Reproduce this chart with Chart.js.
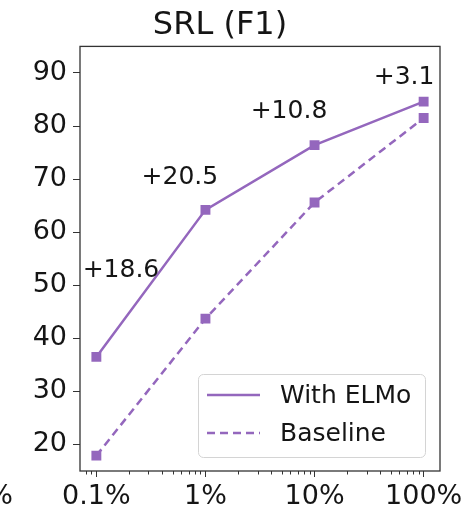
<!DOCTYPE html>
<html><head><meta charset="utf-8">
<script src="https://cdn.jsdelivr.net/npm/chart.js@4/dist/chart.umd.min.js"></script>
<style>html,body{margin:0;padding:0;background:#fff;} #wrap{width:468px;height:507px;position:relative;}</style>
</head><body><div id="wrap"><canvas id="c"></canvas></div>
<script>
// ---- data ----
const titleText = 'SRL (F1)';
const seriesNames = ['With ELMo', 'Baseline'];
const xValues = [0.1, 1, 10, 100];
const xTickValues = [0.1, 1, 10, 100];
const xTickLabels = ['0.1%', '1%', '10%', '100%'];
const yTicks = [20, 30, 40, 50, 60, 70, 80, 90];
const elmo = [36.5, 64.2, 76.4, 84.6];
const baseline = [17.9, 43.7, 65.6, 81.5];
const gainLabels = ['+18.6', '+20.5', '+10.8', '+3.1'];
const gainX = [0.168, 0.583, 5.83, 66.2];
const gainY = [52.8, 70.3, 82.8, 89.2];

// ---- style ----
const FONT = '"DejaVu Sans", sans-serif';
const PURPLE = '#9467bd';
const AXIS = '#333333';
const TEXT = '#151515';
const X_MIN = Math.pow(10, -1.15), X_MAX = Math.pow(10, 2.15);

function isMajor(v) { return xTickValues.some(t => Math.abs(t - v) / t < 1e-6); }

const xTickList = [];
for (let e = -2; e <= 2; e++) {
  for (let m = 1; m <= 9; m++) {
    const v = parseFloat((m * Math.pow(10, e)).toPrecision(6));
    if (v >= X_MIN && v <= X_MAX) xTickList.push(v);
  }
}

const framePlugin = {
  id: 'frame',
  afterDraw(chart) {
    const { ctx, chartArea: a, scales } = chart;
    ctx.save();
    ctx.strokeStyle = AXIS; ctx.lineWidth = 1;
    scales.x.ticks.forEach(t => {
      if (isMajor(t.value)) return;
      const px = Math.round(scales.x.getPixelForValue(t.value)) + 0.5;
      ctx.beginPath(); ctx.moveTo(px, a.bottom); ctx.lineTo(px, a.bottom + 3.5); ctx.stroke();
    });
    ctx.lineWidth = 1.3;
    ctx.strokeRect(a.left, a.top, a.right - a.left, a.bottom - a.top);
    ctx.fillStyle = TEXT; ctx.font = '27px ' + FONT;
    ctx.textAlign = 'right'; ctx.textBaseline = 'middle';
    ctx.fillText('%', 13, a.bottom + 26);
    ctx.restore();
  }
};

const annoPlugin = {
  id: 'anno',
  afterDatasetsDraw(chart) {
    const { ctx, scales, chartArea: a } = chart;
    ctx.save();
    ctx.fillStyle = TEXT; ctx.font = '25px ' + FONT;
    ctx.textAlign = 'center'; ctx.textBaseline = 'middle';
    gainLabels.forEach((s, i) => {
      ctx.fillText(s, scales.x.getPixelForValue(gainX[i]), scales.y.getPixelForValue(gainY[i]));
    });
    const w = 227, h = 83;
    const bx = a.right - 15 - w, by = a.bottom - 14 - h;
    ctx.beginPath();
    ctx.roundRect(bx + 0.5, by + 0.5, w, h, 5);
    ctx.fillStyle = 'rgba(255,255,255,0.85)'; ctx.fill();
    ctx.strokeStyle = '#d4d4d4'; ctx.lineWidth = 1; ctx.stroke();
    chart.data.datasets.forEach((ds, i) => {
      const ly = by + 21 + i * 38;
      ctx.save();
      ctx.strokeStyle = ds.borderColor; ctx.lineWidth = ds.borderWidth;
      ctx.setLineDash(ds.borderDash || []);
      ctx.beginPath(); ctx.moveTo(bx + 9, ly); ctx.lineTo(bx + 62, ly); ctx.stroke();
      ctx.restore();
      ctx.fillStyle = TEXT; ctx.font = '25px ' + FONT;
      ctx.textAlign = 'left'; ctx.textBaseline = 'middle';
      ctx.fillText(ds.label, bx + 82, ly + 1);
    });
    ctx.restore();
  }
};

new Chart(document.getElementById('c'), {
  type: 'line',
  data: {
    datasets: [
      {
        label: seriesNames[0],
        data: xValues.map((x, i) => ({ x, y: elmo[i] })),
        borderColor: PURPLE, backgroundColor: PURPLE, borderWidth: 2.5,
        pointStyle: 'rect', pointRadius: 7, pointBorderWidth: 0, pointHoverRadius: 7
      },
      {
        label: seriesNames[1],
        data: xValues.map((x, i) => ({ x, y: baseline[i] })),
        borderColor: PURPLE, backgroundColor: PURPLE, borderWidth: 2.5, borderDash: [8, 5],
        pointStyle: 'rect', pointRadius: 7, pointBorderWidth: 0, pointHoverRadius: 7
      }
    ]
  },
  options: {
    responsive: true, maintainAspectRatio: false, animation: false,
    layout: { padding: { left: 0, right: 28, top: 0, bottom: 0 } },
    plugins: {
      legend: { display: false }, tooltip: { enabled: false },
      title: {
        display: true, text: titleText, color: TEXT,
        font: { family: FONT, size: 32, weight: 'normal', lineHeight: 1.2 },
        padding: { top: 6, bottom: 2 }
      }
    },
    scales: {
      x: {
        type: 'logarithmic', min: X_MIN, max: X_MAX,
        afterBuildTicks: s => { s.ticks = xTickList.map(v => ({ value: v, major: isMajor(v) })); },
        afterFit: s => { s.height = 36; },
        border: { display: false },
        grid: {
          drawOnChartArea: false, drawTicks: true, tickLength: 6, tickWidth: 1,
          color: 'rgba(0,0,0,0)',
          tickColor: c => (c.tick && isMajor(c.tick.value)) ? AXIS : 'rgba(0,0,0,0)'
        },
        ticks: {
          autoSkip: false, maxRotation: 0, minRotation: 0, padding: 4, color: TEXT,
          font: { family: FONT, size: 27 },
          callback: v => { const i = xTickValues.findIndex(t => Math.abs(t - v) / t < 1e-6); return i >= 0 ? xTickLabels[i] : ''; }
        }
      },
      y: {
        type: 'linear', min: 15, max: 95,
        afterBuildTicks: s => { s.ticks = yTicks.map(v => ({ value: v })); },
        afterFit: s => { s.width = 80; },
        border: { display: false },
        grid: { drawOnChartArea: false, drawTicks: true, tickLength: 7, tickWidth: 1, color: 'rgba(0,0,0,0)', tickColor: AXIS },
        ticks: { padding: 6, color: TEXT, font: { family: FONT, size: 27 } }
      }
    }
  },
  plugins: [framePlugin, annoPlugin]
});
</script></body></html>
